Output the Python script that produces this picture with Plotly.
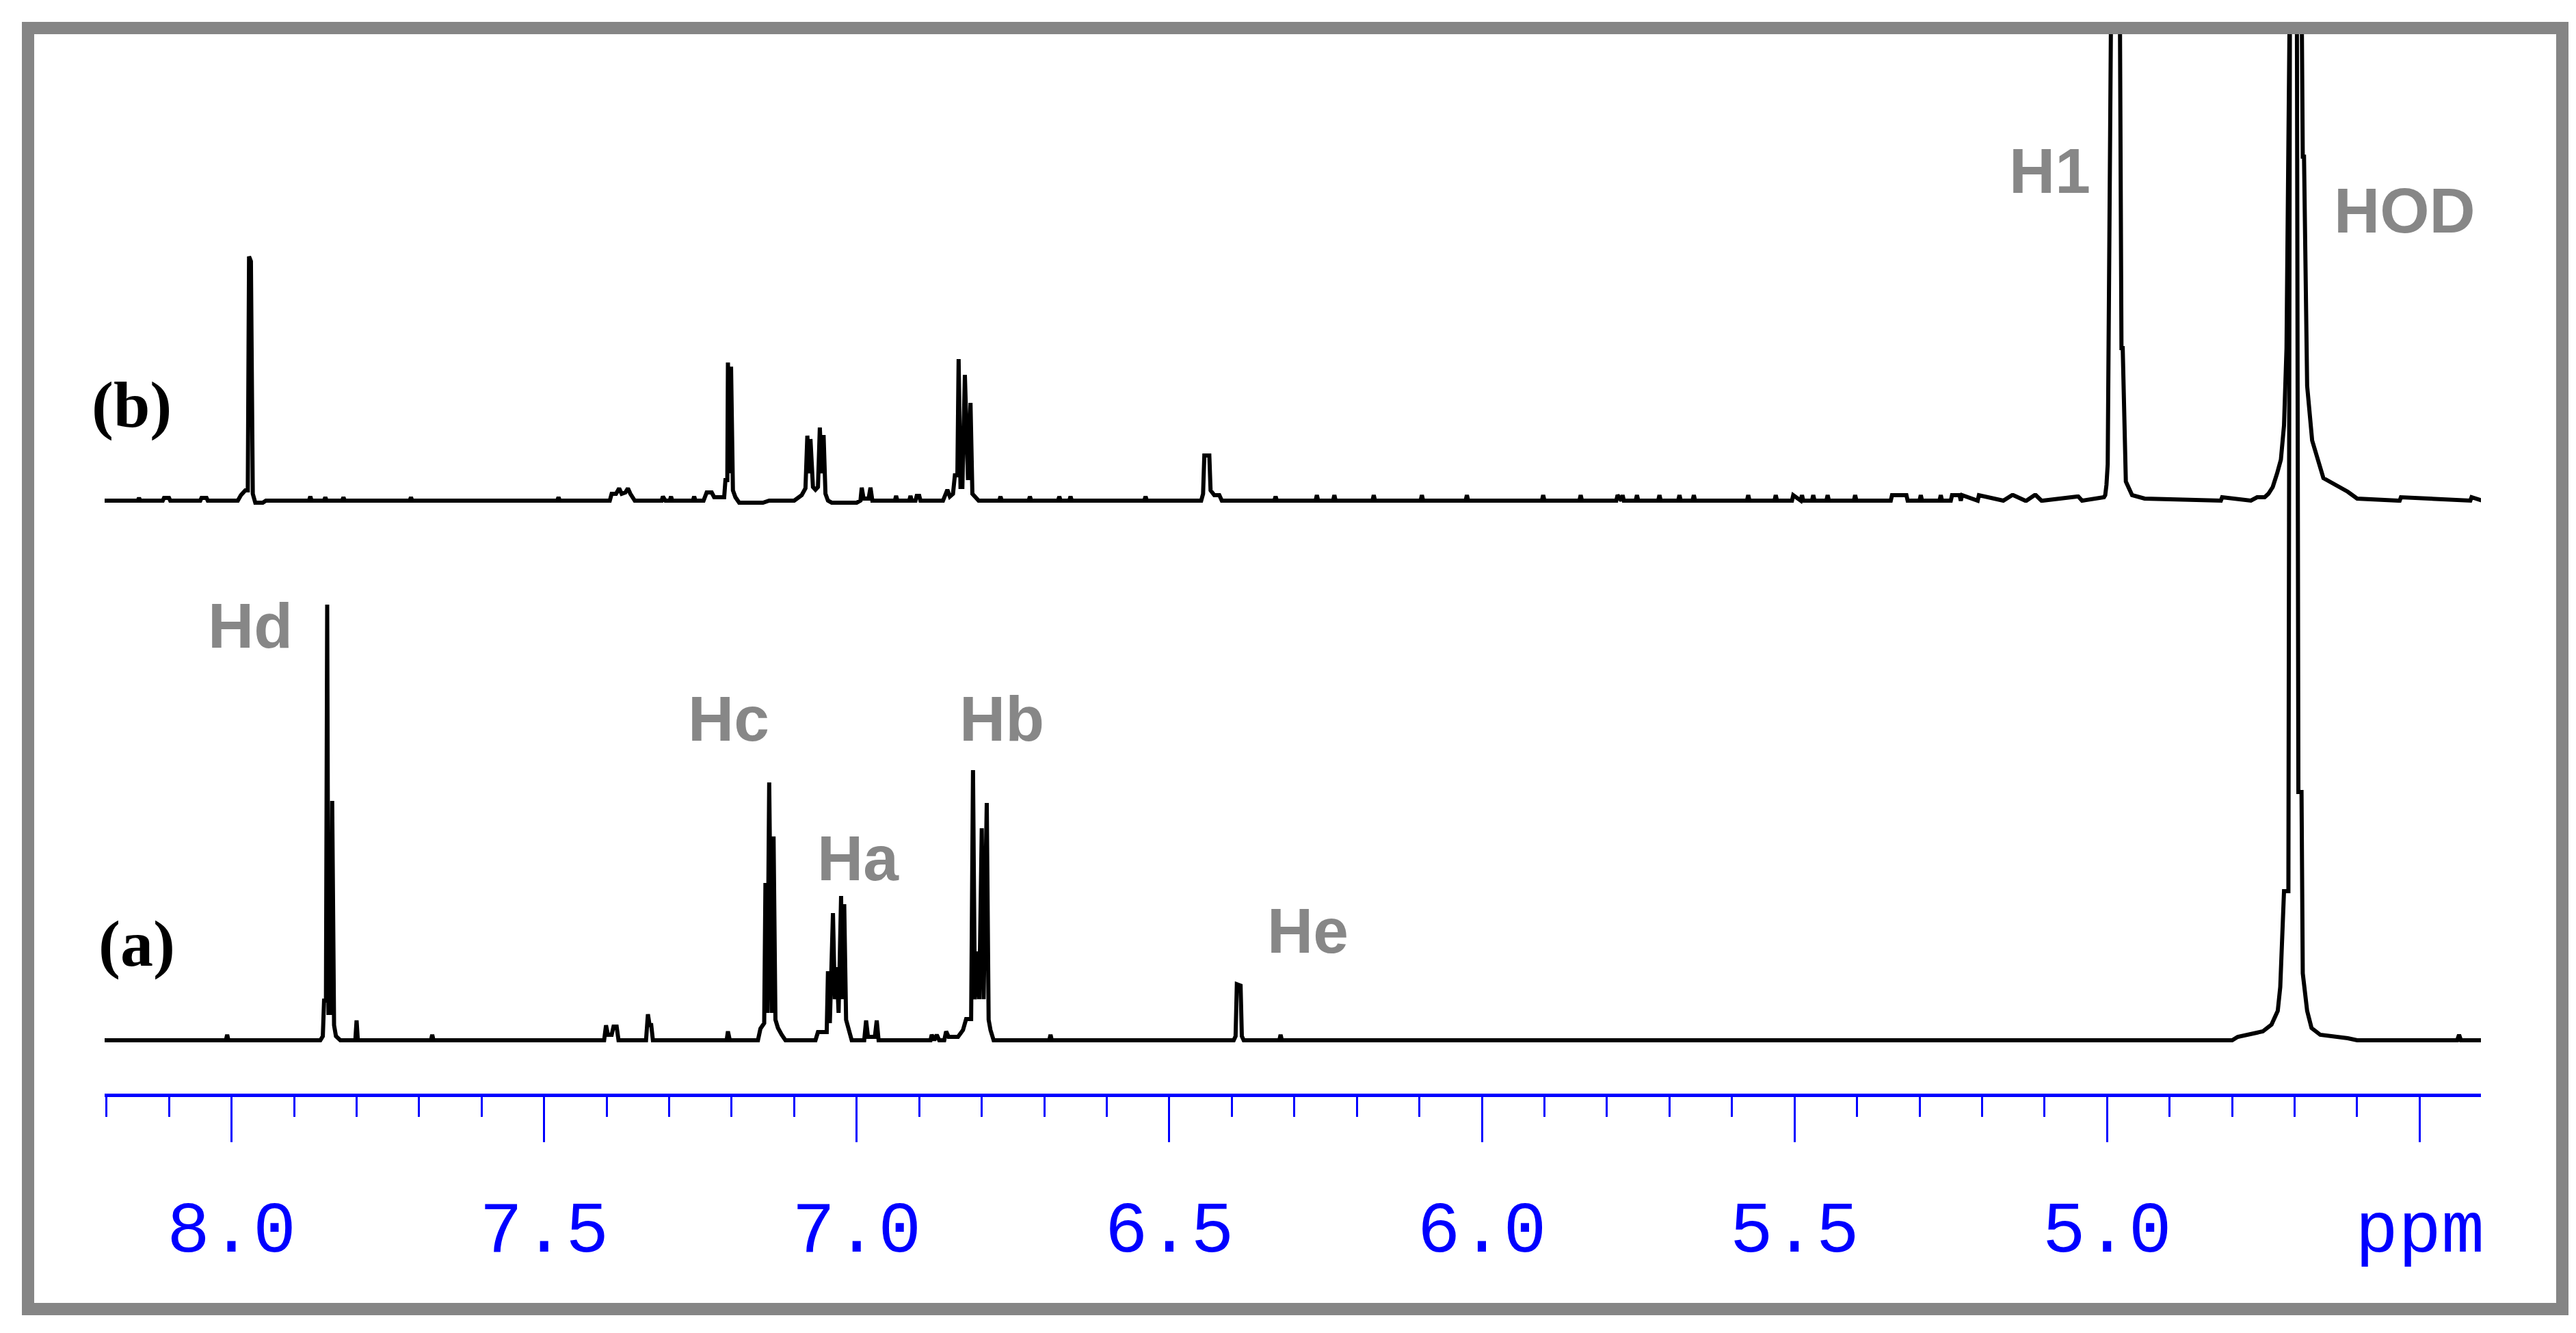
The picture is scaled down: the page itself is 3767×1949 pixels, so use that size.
import plotly.graph_objects as go

# ---------------- data ----------------
# spectrum (a): chemical shift (ppm) and intensity (arbitrary units)
a_ppm = [8.211, 8.009, 8.007, 8.005,
         7.858, 7.854, 7.852, 7.849, 7.847, 7.845, 7.841, 7.839, 7.836, 7.833, 7.826,
         7.802, 7.800, 7.798, 7.681, 7.679, 7.677,
         7.404, 7.401, 7.398, 7.392, 7.389, 7.384, 7.381,
         7.337, 7.334, 7.331, 7.329, 7.326, 7.208, 7.206, 7.203,
         7.158, 7.154, 7.148, 7.146, 7.143, 7.140, 7.136, 7.133, 7.130, 7.126, 7.120, 7.114,
         7.066, 7.062, 7.048, 7.046, 7.043, 7.038, 7.035, 7.032, 7.029, 7.025, 7.023, 7.020,
         7.017, 7.013, 7.008,
         6.988, 6.985, 6.982, 6.971, 6.968, 6.965,
         6.882, 6.880, 6.876, 6.872, 6.868, 6.860, 6.857, 6.853,
         6.838, 6.830, 6.825, 6.817, 6.814, 6.811, 6.807, 6.804, 6.800, 6.797, 6.792, 6.789,
         6.786, 6.781,
         6.692, 6.690, 6.688,
         6.397, 6.394, 6.392, 6.386, 6.384, 6.381, 6.324, 6.322, 6.320,
         4.800, 4.791, 4.751, 4.737, 4.727, 4.723, 4.717, 4.710, 4.707, 4.697, 4.694, 4.689,
         4.687, 4.680, 4.673, 4.659, 4.615, 4.600, 4.440, 4.437, 4.434, 4.400]
a_int = [0, 0, 8, 0,
         0, 6, 58, 58, 637, 40, 40, 350, 22, 6, 0,
         0, 29, 0, 0, 8, 0,
         0, 22, 8, 8, 20, 20, 0,
         0, 38, 20, 25, 0, 0, 13, 0,
         0, 17, 25, 230, 40, 377, 40, 298, 30, 18, 8, 0,
         0, 12, 12, 101, 25, 186, 60, 107, 40, 211, 60, 199,
         30, 15, 0,
         0, 29, 5, 5, 29, 0,
         0, 8, 0, 8, 0, 0, 13, 5,
         5, 15, 31, 31, 395, 60, 130, 60, 310, 60, 347, 30,
         15, 0,
         0, 8, 0,
         0, 6, 82, 80, 6, 0, 0, 8, 0,
         0, 5, 13, 23, 43, 78, 218, 218, 1800, 1800, 363, 363,
         98, 43, 18, 8, 3, 0, 0, 8, 0, 0]

# spectrum (b)
b_ppm = [8.211, 8.150, 8.148, 8.146, 8.110, 8.108, 8.100, 8.098, 8.050, 8.048, 8.040, 8.038,
         7.990, 7.985, 7.978, 7.974, 7.972, 7.969, 7.966, 7.962, 7.950, 7.945,
         7.876, 7.874, 7.872, 7.852, 7.850, 7.848, 7.823, 7.821, 7.819,
         7.715, 7.713, 7.711, 7.479, 7.477, 7.475,
         7.395, 7.392, 7.385, 7.380, 7.376, 7.370, 7.366, 7.362, 7.355,
         7.312, 7.310, 7.306, 7.299, 7.297, 7.295, 7.262, 7.260, 7.258,
         7.245, 7.240, 7.232, 7.228,
         7.212, 7.210, 7.207, 7.206, 7.203, 7.201, 7.198, 7.194, 7.188, 7.150, 7.140,
         7.100, 7.088, 7.082, 7.079, 7.076, 7.074, 7.070, 7.066, 7.062, 7.059, 7.056, 7.053,
         7.050, 7.046, 7.040, 7.000,
         6.994, 6.992, 6.989, 6.981, 6.978, 6.975,
         6.939, 6.937, 6.935, 6.916, 6.914, 6.912, 6.906, 6.904, 6.900, 6.898,
         6.862, 6.858, 6.855, 6.851, 6.846, 6.843, 6.839, 6.837, 6.834, 6.831, 6.827, 6.822,
         6.818, 6.815, 6.810, 6.805,
         6.772, 6.770, 6.768, 6.725, 6.723, 6.721, 6.678, 6.676, 6.674, 6.660, 6.658, 6.656,
         6.540, 6.538, 6.536,
         6.449, 6.446, 6.444, 6.436, 6.434, 6.428, 6.420, 6.416,
         6.332, 6.330, 6.328, 6.266, 6.264, 6.262, 6.238, 6.236, 6.234, 6.175, 6.173, 6.171,
         6.098, 6.096, 6.094, 6.026, 6.024, 6.022, 5.904, 5.902, 5.900, 5.844, 5.842, 5.840,
         5.785, 5.783, 5.777, 5.775, 5.773, 5.754, 5.752, 5.750, 5.718, 5.716, 5.714,
         5.686, 5.684, 5.682, 5.663, 5.661, 5.659, 5.576, 5.574, 5.572,
         5.532, 5.530, 5.528, 5.504, 5.502, 5.490, 5.488, 5.486, 5.472, 5.470, 5.468,
         5.449, 5.447, 5.445, 5.405, 5.403, 5.401,
         5.346, 5.344, 5.321, 5.319, 5.300, 5.298, 5.296, 5.268, 5.266, 5.264,
         5.250, 5.248, 5.236, 5.234, 5.232, 5.209, 5.207, 5.205,
         5.168, 5.166, 5.152, 5.150, 5.131, 5.129, 5.116, 5.114,
         5.105, 5.103, 5.048, 5.046,
         5.040, 5.020, 5.010, 5.005, 5.003, 5.001, 4.999, 4.997, 4.996, 4.987, 4.985, 4.977,
         4.975, 4.970, 4.960, 4.940,
         4.820, 4.818, 4.816,
         4.770, 4.760, 4.748, 4.742, 4.735, 4.728, 4.722, 4.717, 4.713, 4.697, 4.695, 4.687,
         4.685, 4.680, 4.672, 4.654, 4.615, 4.600,
         4.534, 4.532, 4.530, 4.421, 4.419, 4.417, 4.400]
b_int = [0, 0, 4, 0, 0, 4, 4, 0, 0, 4, 4, 0,
         0, 8, 15, 15, 357, 350, 10, -3, -3, 0,
         0, 6, 0, 0, 5, 0, 0, 5, 0,
         0, 5, 0, 0, 5, 0,
         0, 10, 10, 18, 10, 12, 18, 10, 0,
         0, 6, 0, 0, 6, 0, 0, 6, 0,
         0, 12, 12, 5,
         5, 30, 30, 202, 40, 196, 15, 5, -3, -3, 0,
         0, 8, 18, 95, 40, 90, 20, 16, 20, 107, 40, 96,
         10, 0, -3, -3,
         0, 19, 3, 3, 19, 0,
         0, 7, 0, 0, 7, 0, 0, 7, 7, 0,
         0, 10, 16, 6, 10, 37, 37, 207, 20, 20, 184, 30,
         143, 10, 5, 0,
         0, 6, 0, 0, 6, 0, 0, 6, 0, 0, 6, 0,
         0, 6, 0,
         0, 10, 66, 66, 15, 8, 8, 0,
         0, 6, 0, 0, 8, 0, 0, 8, 0, 0, 8, 0,
         0, 8, 0, 0, 8, 0, 0, 8, 0, 0, 8, 0,
         0, 8, 0, 8, 0, 0, 8, 0, 0, 8, 0,
         0, 8, 0, 0, 8, 0, 0, 8, 0,
         0, 8, 0, 0, 8, 0, 8, 0, 0, 8, 0,
         0, 8, 0, 0, 8, 0,
         0, 8, 8, 0, 0, 8, 0, 0, 8, 0,
         0, 8, 8, 0, 8, 0, 0, 8, 0,
         0, 8, 8, 0, 0, 8, 8, 0,
         0, 6, 6, 0,
         3, 3, 5, 8, 23, 53, 538, 538, 1800, 1800, 223, 223,
         28, 8, 3, 0,
         0, 5, 0,
         5, 5, 10, 20, 40, 60, 110, 223, 1800, 1800, 503, 503,
         168, 88, 33, 13, 3, 0,
         0, 5, 0, 0, 5, 0, 0]

axis_ticks = [8.0, 7.5, 7.0, 6.5, 6.0, 5.5, 5.0, 4.5]
axis_tick_text = ["8.0", "7.5", "7.0", "6.5", "6.0", "5.5", "5.0", "ppm"]

peak_labels = ["Hd", "Hc", "Ha", "Hb", "He"]
peak_label_ppm = [7.970, 7.205, 6.998, 6.768, 6.278]
peak_label_int = [606, 470, 266, 470, 160]

b_labels = ["H1", "HOD"]
b_label_ppm = [5.092, 4.524]
b_label_int = [482, 424]

# ---------------- layout geometry (pixels) ----------------
W, H = 3767, 1949
PL, PR, PT, PB = 145, 3620, 41, 1591       # plot area edges
A_BASE, B_BASE = 1513, 724                 # baselines of (a) and (b)
ph = PB - PT

def px_x(X):
    return (X - PL) / (PR - PL)

def px_y(Y):
    return (PB - Y) / ph

fig = go.Figure()
fig.add_trace(go.Scatter(x=a_ppm, y=a_int, mode="lines", yaxis="y",
                         line=dict(color="black", width=6), hoverinfo="skip",
                         showlegend=False))
fig.add_trace(go.Scatter(x=b_ppm, y=b_int, mode="lines", yaxis="y2",
                         line=dict(color="black", width=6), hoverinfo="skip",
                         showlegend=False))

blue = "#0000ff"
gray = "#878787"
label_font = dict(family="Liberation Sans, Arial", size=93, color=gray)

annotations = []
for t, x, y in zip(peak_labels, peak_label_ppm, peak_label_int):
    annotations.append(dict(text="<b>" + t + "</b>", x=x, y=y, xref="x", yref="y",
                            showarrow=False, xanchor="center", yanchor="middle",
                            font=label_font))
for t, x, y in zip(b_labels, b_label_ppm, b_label_int):
    annotations.append(dict(text="<b>" + t + "</b>", x=x, y=y, xref="x", yref="y2",
                            showarrow=False, xanchor="center", yanchor="middle",
                            font=label_font))
annotations.append(dict(text="<b>(b)</b>", x=8.160, y=141, xref="x", yref="y2",
                        showarrow=False, xanchor="center", yanchor="middle",
                        font=dict(family="Liberation Serif, Times New Roman", size=96, color="black")))
annotations.append(dict(text="<b>(a)</b>", x=8.152, y=142, xref="x", yref="y",
                        showarrow=False, xanchor="center", yanchor="middle",
                        font=dict(family="Liberation Serif, Times New Roman", size=96, color="black")))

frame_w = 18
fig.update_layout(
    width=W, height=H,
    margin=dict(l=PL, r=W - PR, t=PT, b=H - PB, pad=0),
    paper_bgcolor="white", plot_bgcolor="white",
    showlegend=False,
    xaxis=dict(range=[8.203, 4.402], tickmode="array", tickvals=axis_ticks,
               ticktext=axis_tick_text, ticks="outside", ticklen=66, tickwidth=3,
               tickcolor=blue, showline=True, linecolor=blue, linewidth=5,
               showgrid=False, zeroline=False, ticklabelstandoff=34,
               tickfont=dict(family="Liberation Mono, Courier New", size=105, color=blue),
               minor=dict(tickmode="linear", tick0=0, dtick=0.1, ticks="outside",
                          ticklen=29, tickwidth=3, tickcolor=blue, showgrid=False)),
    yaxis=dict(range=[A_BASE - PB, A_BASE - PT], visible=False, fixedrange=True),
    yaxis2=dict(range=[B_BASE - PB, B_BASE - PT], visible=False, overlaying="y",
                fixedrange=True),
    annotations=annotations,
    shapes=[dict(type="rect", xref="paper", yref="paper",
                 x0=px_x(24 + frame_w / 2), x1=px_x(3748 - frame_w / 2),
                 y0=px_y(1915 - frame_w / 2), y1=px_y(24 + frame_w / 2),
                 line=dict(color="#858585", width=frame_w), layer="above")],
)

fig.write_html("out.html", config={"displayModeBar": False})
